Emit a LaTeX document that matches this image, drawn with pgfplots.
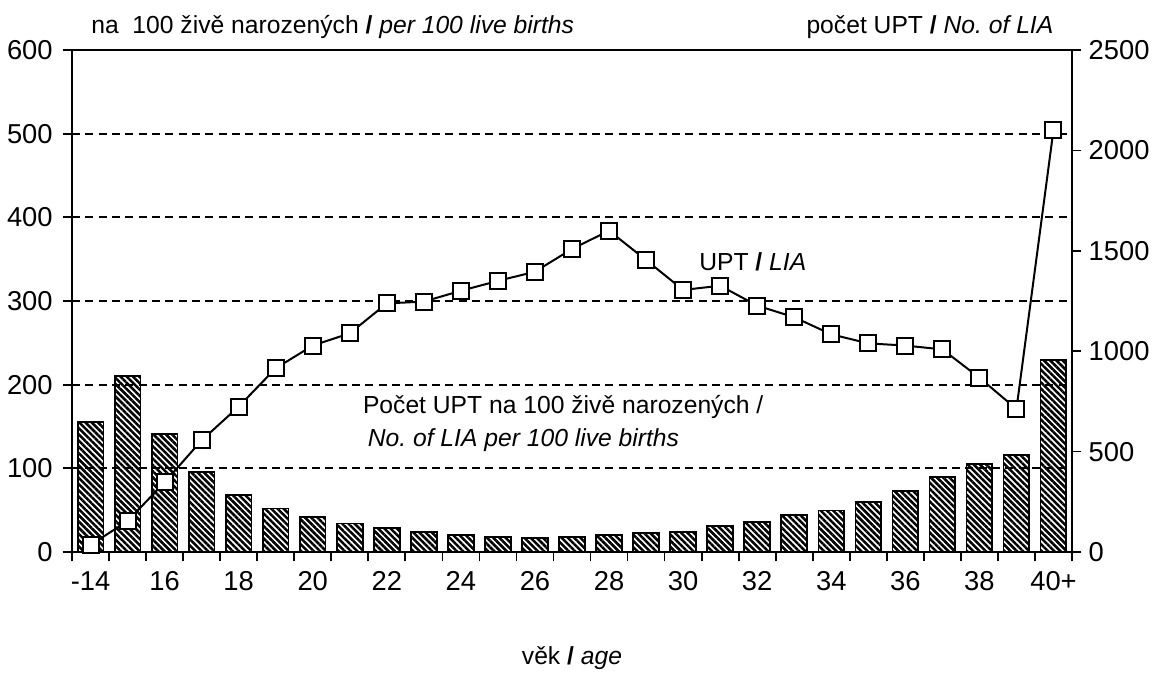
\documentclass[border=0pt]{standalone}
\usepackage{pgfplots}
\pgfplotsset{compat=1.18}
\usepackage{fontspec}
\setmainfont{Liberation Sans}
\usetikzlibrary{patterns.meta}
\newcommand{\txtf}{\fontsize{18.5pt}{22pt}\selectfont}
\newcommand{\tickf}{\fontsize{20.5pt}{24pt}\selectfont}
\frenchspacing

\begin{document}
\begin{tikzpicture}[font=\txtf]
\useasboundingbox (-54pt,-90.75pt) rectangle (810pt,414pt);
\begin{axis}[
  scale only axis, width=750pt, height=376.5pt,
  xmin=-0.5, xmax=26.5, ymin=0, ymax=600,
  clip=false,
  axis line style={line width=1.5pt},
  xtick pos=left, ytick pos=left, tick align=outside,
  xtick={0,2,...,26},
  xticklabels={-14,16,18,20,22,24,26,28,30,32,34,36,38,40+},
  major x tick style={draw=none},
  minor xtick={-0.5,0.5,...,26.5},
  minor tick length=7pt,
  minor x tick style={line width=1.3pt, black},
  ytick={0,100,...,600},
  major tick length=7pt,
  major y tick style={line width=1.3pt, black},
  ymajorgrids,
  grid style={black, line width=1.6pt, dash pattern=on 6pt off 4pt},
  /pgf/number format/assume math mode=true,
  /pgf/number format/1000 sep={},
  xticklabel style={font=\tickf, anchor=north, text height=15pt, text depth=0pt, yshift=-3pt},
  yticklabel style={font=\tickf, xshift=-4pt},
]
\addplot[ybar, bar width=19.3pt, draw=black, line width=1.3pt,
  pattern={Lines[angle=-45,distance=3.3pt,line width=1.9pt]}, pattern color=black]
coordinates {
(0,155) (1,210) (2,141) (3,96) (4,68) (5,52) (6,41.5) (7,34) (8,29) (9,23.5)
(10,20) (11,18.3) (12,17) (13,18.3) (14,20) (15,22.7) (16,24.3) (17,31.5)
(18,36) (19,44) (20,49.5) (21,60) (22,73) (23,90) (24,105) (25,115.5) (26,229.5)
};
\node[anchor=west] at (axis cs:7.23,173) {Počet UPT na 100 živě narozených /};
\node[anchor=west] at (axis cs:7.36,134) {\itshape No. of LIA per 100 live births};
\node at (axis cs:17.88,347) {UPT \textbf{/} \itshape LIA};
\node[anchor=west] at ([xshift=11pt,yshift=17pt]rel axis cs:0,1) {na\ \ 100 živě narozených \textbf{/} \itshape per 100 live births};
\node[anchor=east] at ([xshift=-10.5pt,yshift=17pt]rel axis cs:1,1) {počet UPT \textbf{/} \itshape No. of LIA};
\node at ([yshift=-79.5pt]rel axis cs:0.5,0) {věk \textbf{/} \itshape age};
\end{axis}
\begin{axis}[
  scale only axis, width=750pt, height=376.5pt,
  xmin=-0.5, xmax=26.5, ymin=0, ymax=2500,
  axis x line=none, axis y line*=right,
  axis line style={line width=1.5pt},
  ytick={0,500,...,2500}, tick align=outside,
  major tick length=7pt,
  major y tick style={line width=1.3pt, black},
  /pgf/number format/assume math mode=true,
  /pgf/number format/1000 sep={},
  yticklabel style={font=\tickf, xshift=2pt},
]
\addplot[black, line width=1.5pt, mark=square*, mark size=6pt,
  mark options={fill=white, line width=1.5pt}]
coordinates {
(0,35) (1,154) (2,347) (3,556) (4,724) (5,915) (6,1028) (7,1089) (8,1238)
(9,1247) (10,1301) (11,1350) (12,1396) (13,1509) (14,1600) (15,1454) (16,1305)
(17,1326) (18,1227) (19,1169) (20,1084) (21,1039) (22,1028) (23,1009) (24,868)
(25,712) (26,2102)
};
\end{axis}
\end{tikzpicture}
\end{document}
